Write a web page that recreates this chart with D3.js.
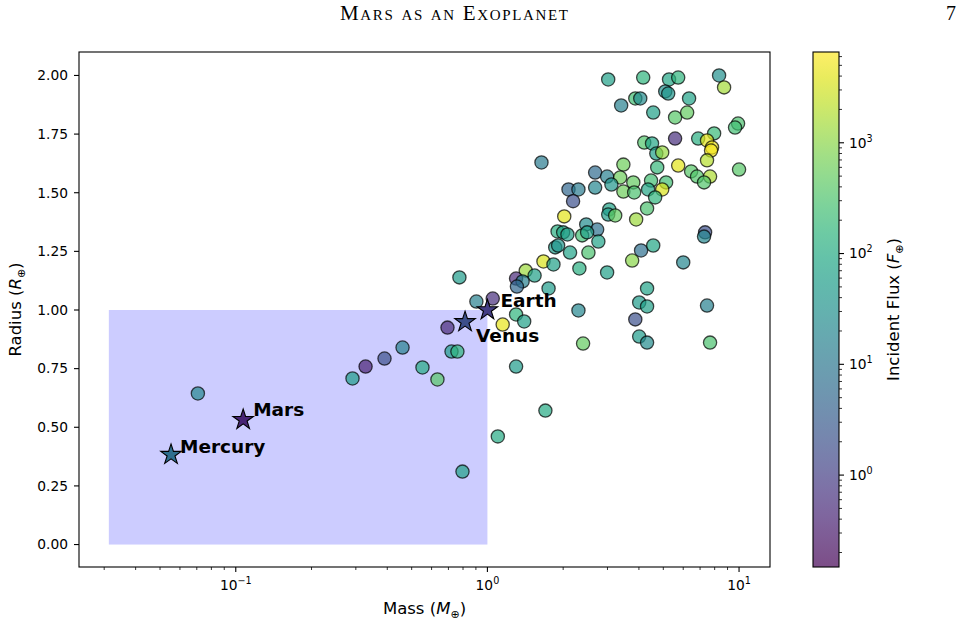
<!DOCTYPE html>
<html><head><meta charset="utf-8">
<script src="https://cdn.jsdelivr.net/npm/d3@7"></script>
<style>body{margin:0;background:#fff}svg{display:block}text{font-family:"DejaVu Sans",sans-serif}</style>
</head><body><svg id="c" width="973" height="626"></svg>
<script>
// ---- data ----
const mass = [3.02,4.16,5.27,5.73,8.33,8.72,3.40,3.87,4.05,5.09,5.23,6.33,4.56,5.57,6.22,9.91,9.64,7.96,5.57,6.88,7.46,7.81,7.74,7.46,10.0,5.73,6.45,6.81,7.67,7.26,4.20,4.51,4.69,4.95,1.64,3.47,4.73,2.68,2.99,3.37,3.11,3.80,3.47,3.83,4.47,5.13,4.35,4.95,4.64,2.10,2.30,2.68,2.19,4.31,2.02,3.05,3.02,3.22,3.90,1.90,2.00,2.08,2.47,2.73,2.38,2.49,2.76,7.33,7.26,1.86,1.91,2.13,2.52,4.08,4.56,3.76,6.00,1.67,1.83,2.32,2.99,1.42,1.54,1.30,1.38,1.31,1.75,0.774,4.31,0.904,1.05,2.30,4.01,4.31,7.46,1.30,1.40,1.15,3.87,4.01,4.31,2.40,7.67,0.694,0.460,0.390,0.720,0.760,0.552,0.633,1.30,0.328,0.291,0.0707,1.70,1.10,0.796];
const radius = [1.983,1.991,1.983,1.991,2.0,1.949,1.872,1.902,1.902,1.932,1.923,1.902,1.842,1.821,1.842,1.795,1.778,1.753,1.731,1.731,1.723,1.693,1.680,1.638,1.599,1.616,1.591,1.569,1.569,1.544,1.714,1.710,1.667,1.672,1.629,1.620,1.608,1.586,1.569,1.565,1.535,1.544,1.505,1.501,1.552,1.544,1.514,1.514,1.480,1.514,1.514,1.522,1.464,1.433,1.399,1.429,1.407,1.403,1.386,1.335,1.331,1.322,1.365,1.343,1.318,1.331,1.292,1.331,1.313,1.267,1.275,1.245,1.245,1.254,1.275,1.211,1.203,1.207,1.194,1.177,1.160,1.168,1.147,1.134,1.122,1.100,1.092,1.139,1.092,1.036,1.049,0.998,1.032,1.015,1.019,0.981,0.951,0.938,0.960,0.887,0.861,0.857,0.861,0.925,0.840,0.793,0.823,0.823,0.755,0.704,0.759,0.759,0.708,0.644,0.571,0.461,0.311];
const flux = [60,150,80,150,30,1500,15,250,25,30,40,70,60,400,500,300,250,200,0.6,120,4000,5000,5500,2000,400,4000,400,350,1800,350,350,80,60,1200,12,600,180,6,15,600,40,500,600,300,250,250,80,3500,150,5,12,20,2,300,4000,70,50,500,1300,120,80,60,25,8,250,60,70,2,20,50,40,70,300,7,80,1000,20,3500,60,120,60,1300,60,0.5,15,5,50,50,70,15,0.6,20,50,60,15,150,60,4500,2,50,25,500,300,0.5,15,2,50,150,100,400,50,0.4,50,20,100,100,60];

const ssNames = ["Mercury","Mars","Venus","Earth"];
const ssMass = [0.0553,0.107,0.815,1.0];
const ssRadius = [0.383,0.532,0.949,1.0];
const ssFlux = [6.67,0.43,1.91,1.0];

const boxMass = [0.0313,1.0];
const boxRadius = [0,1.0];

const yTicks = [0,0.25,0.5,0.75,1.0,1.25,1.5,1.75,2.0];
const xTicks = [0.1,1,10];
const xTickExp = ["−1","0","1"];
const cTicks = [1,10,100,1000];
const cTickExp = ["0","1","2","3"];

// ---- layout ----
const svg = d3.select("#c");
const L=79,R=770,T=52,B=567;
const x = d3.scaleLog().domain([Math.pow(10,-1.623),Math.pow(10,1.123)]).range([L,R]);
const y = d3.scaleLinear().domain([-0.1,2.1]).range([568,52]);
const cDom=[0.148,6600];
const c = d3.scaleLog().domain(cDom).range([0,1]);
const col = v => d3.interpolateViridis(Math.max(0,Math.min(1,c(v))));

// header
svg.append("text").attr("x",454).attr("y",20).attr("text-anchor","middle")
  .attr("textLength",228).attr("lengthAdjust","spacing")
  .style("font-family","'Liberation Serif','DejaVu Serif',serif").style("font-variant","small-caps")
  .style("font-size","21px").text("Mars as an Exoplanet");
svg.append("text").attr("x",951).attr("y",20).attr("text-anchor","middle")
  .style("font-family","'Liberation Serif','DejaVu Serif',serif").style("font-size","20px").text("7");

// shaded box
svg.append("rect").attr("x",x(boxMass[0])).attr("y",y(boxRadius[1]))
  .attr("width",x(boxMass[1])-x(boxMass[0])).attr("height",y(boxRadius[0])-y(boxRadius[1]))
  .attr("fill","#ccccff");

// points
const pts = mass.map((m,i)=>({m,r:radius[i],f:flux[i]}));
svg.append("g").selectAll("circle").data(pts).join("circle")
  .attr("cx",d=>x(d.m)).attr("cy",d=>y(d.r)).attr("r",6.6)
  .attr("fill",d=>col(d.f)).attr("fill-opacity",0.7)
  .attr("stroke","#000").attr("stroke-opacity",0.7).attr("stroke-width",1.3);

// solar system stars
const ss = ssNames.map((n,i)=>({n,m:ssMass[i],r:ssRadius[i],f:ssFlux[i]}));
const star = d3.symbol().type(d3.symbolStar).size(130);
svg.append("g").selectAll("path").data(ss).join("path")
  .attr("d",star).attr("transform",d=>`translate(${x(d.m)},${y(d.r)})`)
  .attr("fill",d=>col(d.f)).attr("stroke","#000").attr("stroke-width",1.1);
const lblOff = {Mercury:[9,-2],Mars:[10,-3.5],Venus:[11,20],Earth:[13,-3.5]};
svg.append("g").selectAll("text").data(ss).join("text")
  .attr("x",d=>x(d.m)+lblOff[d.n][0]).attr("y",d=>y(d.r)+lblOff[d.n][1])
  .style("font-weight","bold").style("font-size","18.5px").text(d=>d.n);

// frame
svg.append("rect").attr("x",L).attr("y",T).attr("width",R-L).attr("height",B-T)
  .attr("fill","none").attr("stroke","#000").attr("stroke-width",1.1);

// y axis
const gy = svg.append("g");
yTicks.forEach(t=>{
  gy.append("line").attr("x1",L).attr("x2",L-5).attr("y1",y(t)).attr("y2",y(t)).attr("stroke","#000").attr("stroke-width",1.1);
  gy.append("text").attr("x",L-11).attr("y",y(t)).attr("dy","0.35em").attr("text-anchor","end")
    .style("font-size","13.8px").text(d3.format(".2f")(t));
});
// x axis
const gx = svg.append("g");
const minor=[];
for(let e=-2;e<=1;e++) for(let k=2;k<=9;k++){const v=k*Math.pow(10,e); if(x(v)>=L&&x(v)<=R) minor.push(v);}
minor.forEach(v=>gx.append("line").attr("x1",x(v)).attr("x2",x(v)).attr("y1",B).attr("y2",B+3).attr("stroke","#000").attr("stroke-width",0.8));
xTicks.forEach((t,i)=>{
  gx.append("line").attr("x1",x(t)).attr("x2",x(t)).attr("y1",B).attr("y2",B+5).attr("stroke","#000").attr("stroke-width",1.1);
  const tx=gx.append("text").attr("x",x(t)).attr("y",B+23).attr("text-anchor","middle").style("font-size","13.8px");
  tx.append("tspan").text("10");
  tx.append("tspan").attr("dy","-6").style("font-size","9.6px").text(xTickExp[i]);
});
// axis labels
const yl = svg.append("text").attr("transform",`translate(21,${(T+B)/2}) rotate(-90)`).attr("text-anchor","middle").style("font-size","16.5px");
yl.append("tspan").text("Radius (");
yl.append("tspan").style("font-style","italic").text("R");
yl.append("tspan").attr("dy","4").style("font-size","11px").text("⊕");
yl.append("tspan").attr("dy","-4").text(")");
const xl = svg.append("text").attr("x",(L+R)/2).attr("y",614).attr("text-anchor","middle").style("font-size","16.5px");
xl.append("tspan").text("Mass (");
xl.append("tspan").style("font-style","italic").text("M");
xl.append("tspan").attr("dy","4").style("font-size","11px").text("⊕");
xl.append("tspan").attr("dy","-4").text(")");

// colorbar
const CL=813,CR=839;
const defs=svg.append("defs");
const grad=defs.append("linearGradient").attr("id","vg").attr("x1",0).attr("y1",1).attr("x2",0).attr("y2",0);
d3.range(0,1.0001,0.05).forEach(t=>grad.append("stop").attr("offset",t).attr("stop-color",d3.interpolateViridis(t)).attr("stop-opacity",0.7));
const cy = d3.scaleLog().domain(cDom).range([B,T]);
svg.append("rect").attr("x",CL).attr("y",T).attr("width",CR-CL).attr("height",B-T).attr("fill","url(#vg)");
svg.append("rect").attr("x",CL).attr("y",T).attr("width",CR-CL).attr("height",B-T).attr("fill","none").attr("stroke","#000").attr("stroke-width",1.1);
const cminor=[];
for(let e=-1;e<=3;e++) for(let k=2;k<=9;k++){const v=k*Math.pow(10,e); if(v>=cDom[0]&&v<=cDom[1]) cminor.push(v);}
cminor.forEach(v=>svg.append("line").attr("x1",CR).attr("x2",CR+3).attr("y1",cy(v)).attr("y2",cy(v)).attr("stroke","#000").attr("stroke-width",0.8));
cTicks.forEach((t,i)=>{
  svg.append("line").attr("x1",CR).attr("x2",CR+5).attr("y1",cy(t)).attr("y2",cy(t)).attr("stroke","#000").attr("stroke-width",1.1);
  const tx=svg.append("text").attr("x",CR+10).attr("y",cy(t)).attr("dy","0.35em").style("font-size","13.8px");
  tx.append("tspan").text("10");
  tx.append("tspan").attr("dy","-6").style("font-size","9.6px").text(cTickExp[i]);
});
const cl = svg.append("text").attr("transform",`translate(899,${(T+B)/2}) rotate(-90)`).attr("text-anchor","middle").style("font-size","16.5px");
cl.append("tspan").text("Incident Flux (");
cl.append("tspan").style("font-style","italic").text("F");
cl.append("tspan").attr("dy","4").style("font-size","11px").text("⊕");
cl.append("tspan").attr("dy","-4").text(")");
</script></body></html>
